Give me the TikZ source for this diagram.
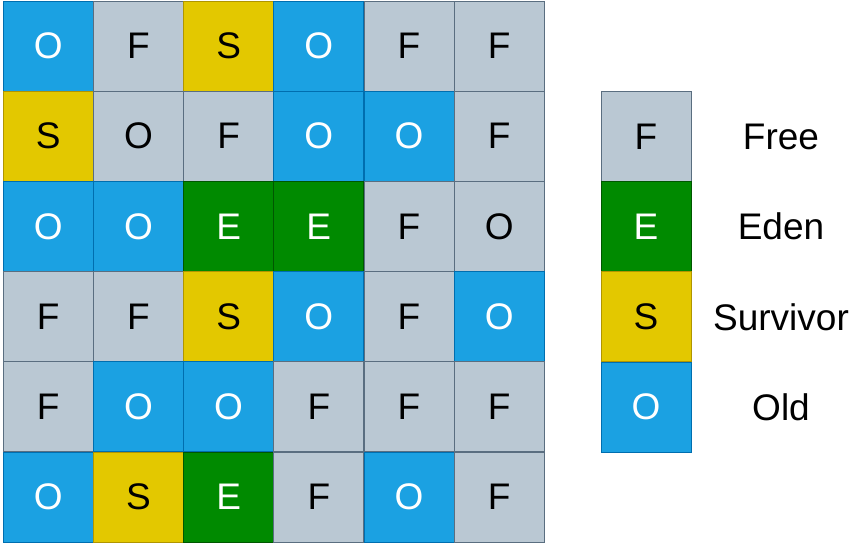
\documentclass[tikz,border=0pt]{standalone}
\usepackage{fontspec}
\setmainfont{Liberation Sans}
\definecolor{fF}{HTML}{BAC8D3}\definecolor{dF}{HTML}{5A6E80}
\definecolor{fO}{HTML}{1BA1E2}\definecolor{dO}{HTML}{006EAF}
\definecolor{fS}{HTML}{E3C800}\definecolor{dS}{HTML}{B09500}
\definecolor{fE}{HTML}{008A00}\definecolor{dE}{HTML}{005700}
\colorlet{tF}{black}\colorlet{tS}{black}\colorlet{tO}{white}\colorlet{tE}{white}
\tikzset{
  cell/.style={draw=d#1, fill=f#1, text=t#1, line width=1pt, minimum width=90pt, minimum height=90pt, inner sep=0pt, font=\fontsize{37}{44}\selectfont},
  lbl/.style={font=\fontsize{37}{44}\selectfont, text=black},
}
\begin{document}
\begin{tikzpicture}[x=1pt,y=-1pt]
\useasboundingbox (0,0) rectangle (850,544);
\foreach \row [count=\r from 0] in {{O/O,F/F,S/S,O/O,F/F,F/F},{S/S,F/O,F/F,O/O,O/O,F/F},{O/O,O/O,E/E,E/E,F/F,F/O},{F/F,F/F,S/S,O/O,F/F,O/O},{F/F,O/O,O/O,F/F,F/F,F/F},{O/O,S/S,E/E,F/F,O/O,F/F}}{
  \foreach \k/\t [count=\c from 0] in \row {
    \node[cell=\k] (g\r\c) at ({48.2+90.2*\c},{46+90.2*\r}) {\t};
  }
}
\node[cell=F] (kF) at (646,136.5) {F};
\node[cell=E] (kE) at (646,226.7) {E};
\node[cell=S] (kS) at (646,316.9) {S};
\node[cell=O] (kO) at (646,407.1) {O};
\node[lbl] (lF) at (781,136.5) {Free};
\node[lbl] (lE) at (781,226.7) {Eden};
\node[lbl] (lS) at (781,316.9) {Survivor};
\node[lbl] (lO) at (781,407.1) {Old};
\end{tikzpicture}
\end{document}
